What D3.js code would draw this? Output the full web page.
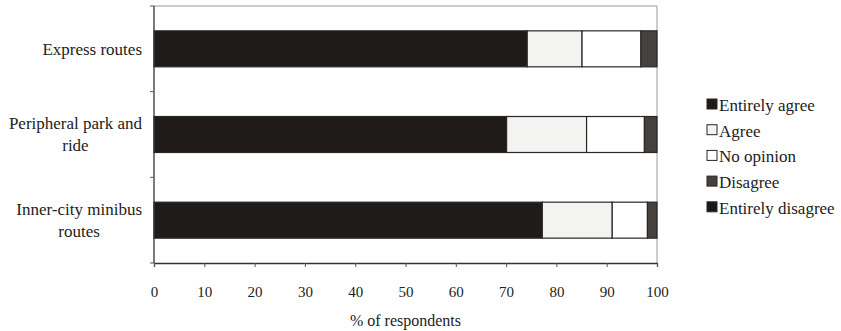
<!DOCTYPE html>
<html>
<head>
<meta charset="utf-8">
<script src="https://cdn.jsdelivr.net/npm/d3@7"></script>
<style>
  body { margin: 0; background: #fff; }
  text { font-family: "Liberation Serif", "Times New Roman", serif; fill: #222; }
</style>
</head>
<body>
<div id="chart"></div>
<script>
const width = 841;
const height = 331;

// data (% of respondents)
const categories = ["Express routes", "Peripheral park and ride", "Inner-city minibus routes"];
const catLines = [["Express routes"], ["Peripheral park and", "ride"], ["Inner-city minibus", "routes"]];
const seriesNames = ["Entirely agree", "Agree", "No opinion", "Disagree", "Entirely disagree"];
const entirelyAgree = [74.2, 70.1, 77.2];
const agree = [10.9, 15.9, 13.9];
const noOpinion = [11.7, 11.5, 7.0];
const disagree = [3.2, 2.5, 1.9];
const entirelyDisagree = [0, 0, 0];
const xTicks = [0, 10, 20, 30, 40, 50, 60, 70, 80, 90, 100];

const colors = ["#1e1b19", "#f3f3f1", "#ffffff", "#45413e", "#1a1816"];

const rows = categories.map((c, i) => ({
    cat: c,
    "Entirely agree": entirelyAgree[i],
    "Agree": agree[i],
    "No opinion": noOpinion[i],
    "Disagree": disagree[i],
    "Entirely disagree": entirelyDisagree[i]
}));

const stacked = d3.stack().keys(seriesNames)(rows);

const x = d3.scaleLinear().domain([0, 100]).range([154, 657]);
const y = d3.scaleBand().domain(categories).range([6, 263])
    .paddingInner(0.58).paddingOuter(0.29);
const color = d3.scaleOrdinal().domain(seriesNames).range(colors);

const svg = d3.select("#chart")
    .append("svg")
        .attr("width", width)
        .attr("height", height)
        .attr("viewBox", [0, 0, width, height]);

// light frame top and right
svg.append("path")
    .attr("d", `M${x(0)},${y.range()[0]}H${x(100)}V${y.range()[1]}`)
    .attr("fill", "none")
    .attr("stroke", "#9a9a9a")
    .attr("stroke-width", 1);

// bars
svg.append("g").selectAll("g")
    .data(stacked)
    .enter().append("g")
        .attr("fill", d => color(d.key))
    .selectAll("rect")
    .data(d => d)
    .enter().append("rect")
        .attr("x", d => x(d[0]))
        .attr("y", d => y(d.data.cat))
        .attr("width", d => x(d[1]) - x(d[0]))
        .attr("height", y.bandwidth())
        .attr("stroke", "#2a2725")
        .attr("stroke-width", d => d[1] - d[0] > 0 ? 1.2 : 0);

// x axis
const xAxis = svg.append("g")
    .attr("transform", `translate(0,${y.range()[1]})`)
    .call(d3.axisBottom(x).tickValues(xTicks).tickSize(4).tickPadding(19).tickFormat(d3.format("d")));
xAxis.select(".domain").attr("stroke", "#333").attr("stroke-width", 1.3);
xAxis.selectAll(".tick line").attr("stroke", "#555");
xAxis.selectAll("text")
    .style("font-family", "Liberation Serif")
    .style("font-size", "15px")
    .attr("fill", "#222");

// y axis line with ticks on band boundaries
svg.append("line")
    .attr("x1", x(0)).attr("x2", x(0))
    .attr("y1", y.range()[0]).attr("y2", y.range()[1])
    .attr("stroke", "#333").attr("stroke-width", 1.3);
svg.append("g").selectAll("line")
    .data(d3.range(categories.length + 1))
    .enter().append("line")
        .attr("x1", x(0) - 4).attr("x2", x(0))
        .attr("y1", i => y.range()[0] + i * y.step())
        .attr("y2", i => y.range()[0] + i * y.step())
        .attr("stroke", "#555");

// category labels
const catLabel = svg.append("g").selectAll("text")
    .data(categories)
    .enter().append("text")
        .style("font-size", "17px");
catLabel.each(function(d, i) {
    const lines = catLines[i];
    const cy = y(d) + y.bandwidth() / 2;
    const lh = 22;
    d3.select(this).selectAll("tspan")
        .data(lines)
        .enter().append("tspan")
            .attr("x", 142)
            .attr("text-anchor", "end")
            .attr("y", (l, j) => cy + (j - (lines.length - 1) / 2) * lh)
            .attr("dy", "0.35em")
            .text(l => l);
});
// centre the second line under the first, like the original
catLabel.each(function() {
    const spans = d3.select(this).selectAll("tspan").nodes();
    if (spans.length > 1) {
        const w0 = spans[0].getComputedTextLength();
        spans.forEach(s => {
            s.setAttribute("text-anchor", "middle");
            s.setAttribute("x", 142 - w0 / 2);
        });
    }
});

// axis title
svg.append("text")
    .attr("x", (x(0) + x(100)) / 2)
    .attr("y", 320)
    .attr("dy", "0.35em")
    .attr("text-anchor", "middle")
    .style("font-size", "16px")
    .text("% of respondents");

// legend
const legend = svg.append("g").selectAll("g")
    .data(seriesNames)
    .enter().append("g")
        .attr("transform", (d, i) => `translate(707,${105 + i * 25.7})`);
legend.append("rect")
    .attr("x", 0).attr("y", -6)
    .attr("width", 10).attr("height", 10)
    .attr("fill", d => color(d))
    .attr("stroke", "#2a2725")
    .attr("stroke-width", 1);
legend.append("text")
    .attr("x", 12)
    .attr("dy", "0.35em")
    .style("font-size", "17px")
    .text(d => d);
</script>
</body>
</html>
